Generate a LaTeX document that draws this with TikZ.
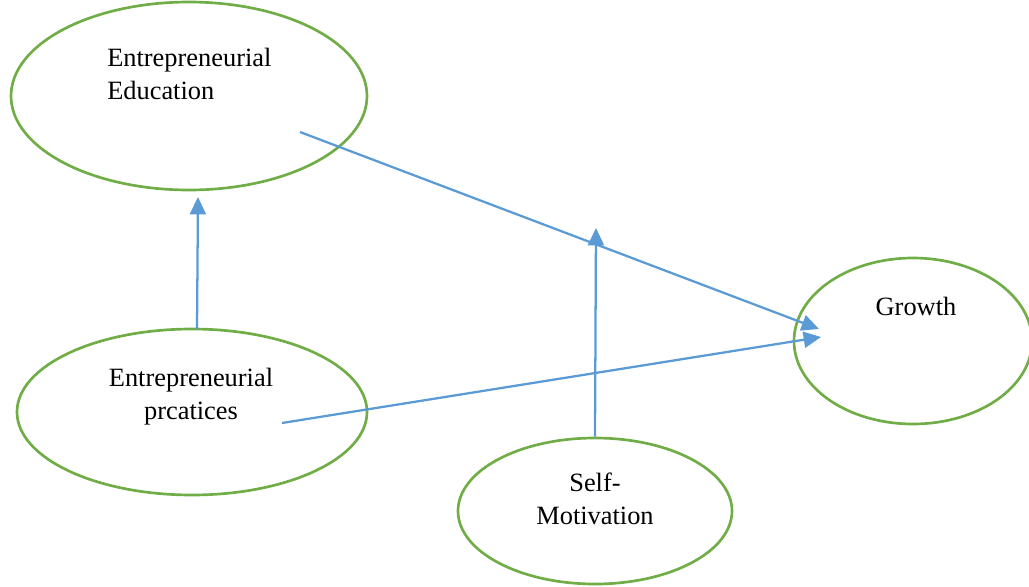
\documentclass[tikz,border=0pt]{standalone}
\usepackage{fontspec}
\setmainfont{Liberation Serif}
\usetikzlibrary{shapes.geometric,arrows.meta}
\definecolor{ringgreen}{HTML}{70AD47}
\definecolor{linkblue}{HTML}{5B9BD5}
\tikzset{
  ring/.style={ellipse, draw=ringgreen, line width=2pt, inner sep=0pt},
  caption/.style={font=\fontsize{19.8}{24.75}\selectfont, inner sep=0pt, text=black},
  link/.style={draw=linkblue, line width=1.7pt, -{Triangle[length=13pt,width=12pt]}}
}
\begin{document}
\begin{tikzpicture}[x=0.75pt,y=-0.75pt]
\useasboundingbox (0,0) rectangle (1029,586);
% construct ellipses
\node[ring, minimum width=356*0.75pt, minimum height=188*0.75pt] (edu) at (189,96) {};
\node[ring, minimum width=350*0.75pt, minimum height=166*0.75pt] (prac) at (192,412) {};
\node[ring, minimum width=274*0.75pt, minimum height=146*0.75pt] (mot) at (595,511) {};
\node[ring, minimum width=238*0.75pt, minimum height=166*0.75pt] (grow) at (913,341) {};
% labels
\node[caption, align=left, anchor=north west] (edutext) at (107,48) {Entrepreneurial\\Education};
\node[caption, align=center] (practext) at (191,397) {Entrepreneurial\\prcatices};
\node[caption, align=center] (mottext) at (595,499) {Self-\\Motivation};
\node[caption] (growtext) at (916,306) {Growth};
% connector end points
\coordinate (eduout) at (300,132);
\coordinate (pracout) at (282,423);
\coordinate (pracup) at (197,329);
\coordinate (eduin) at (198,197);
\coordinate (growinA) at (819,329);
\coordinate (growinB) at (821,337);
\coordinate (modtip) at (596,228);
% connectors
\draw[link] (eduout) -- (growinA);
\draw[link] (pracout) -- (growinB);
\draw[link] (pracup) -- (eduin);
\draw[link] (mot.north) -- (modtip);
\end{tikzpicture}
\end{document}
